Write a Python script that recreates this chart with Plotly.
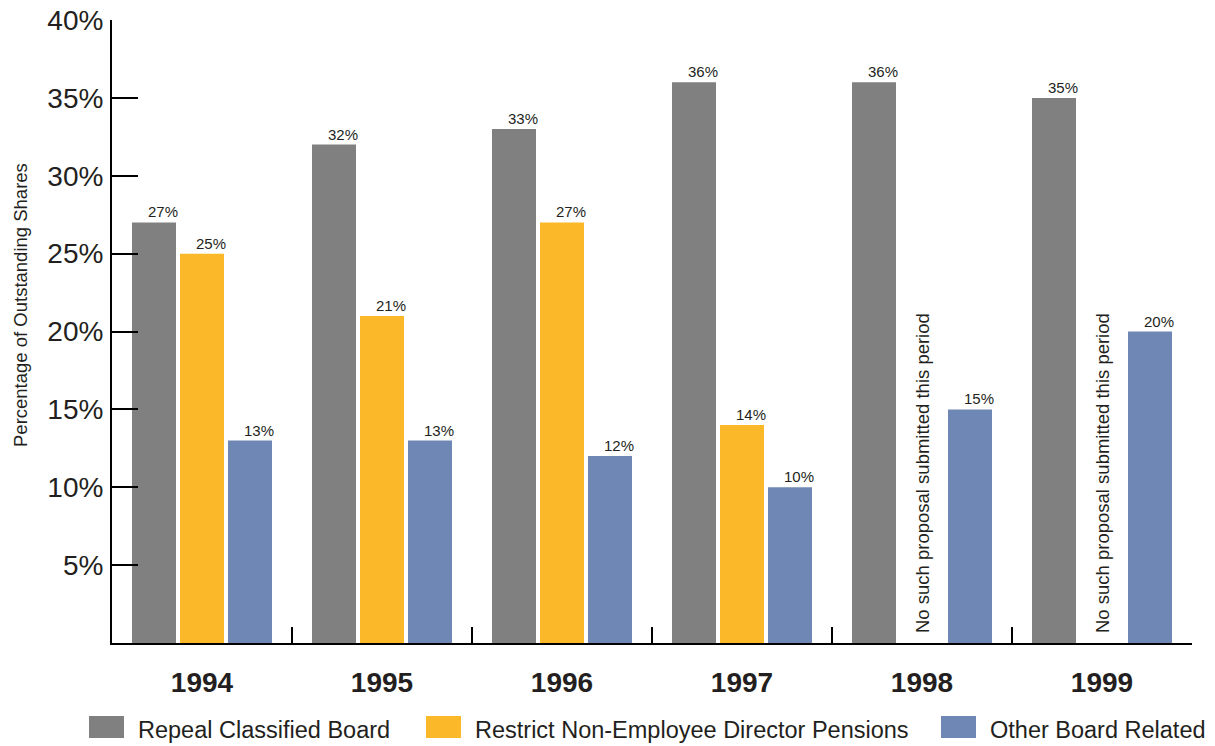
import plotly.graph_objects as go

years = ["1994", "1995", "1996", "1997", "1998", "1999"]
series_names = ["Repeal Classified Board", "Restrict Non-Employee Director Pensions", "Other Board Related"]
repeal = [27, 32, 33, 36, 36, 35]
pensions = [25, 21, 27, 14, None, None]
other = [13, 13, 12, 10, 15, 20]
ytick_vals = [5, 10, 15, 20, 25, 30, 35, 40]
ytick_text = ["5%", "10%", "15%", "20%", "25%", "30%", "35%", "40%"]
missing_note = "No such proposal submitted this period"
y_title = "Percentage of Outstanding Shares"

colors = ["#808080", "#FBB829", "#6E87B4"]
series = [repeal, pensions, other]
FONT = "Liberation Sans, Arial, sans-serif"
TXT = "#231f20"

W, H = 1215, 746
L, R, T, B = 112, 23, 20, 103
PW, PH = W - L - R, H - T - B

def px(xp):
    return (xp - L) / PW

def py(yp):
    return (H - B - yp) / PH

fig = go.Figure()
for name, vals, col in zip(series_names, series, colors):
    fig.add_trace(go.Bar(x=years, y=vals, name=name, marker=dict(color=col, line=dict(width=0)),
                         showlegend=False, hoverinfo="x+y"))

annotations = []
shifts = [-39, 9, 57]
for vals, sh in zip(series, shifts):
    for i, v in enumerate(vals):
        if v is None:
            continue
        annotations.append(dict(x=i, y=v, xref="x", yref="y", text=f"{v}%", showarrow=False,
                                xanchor="center", yanchor="bottom", xshift=sh, yshift=0,
                                font=dict(size=15, color=TXT, family=FONT)))
for i, v in enumerate(pensions):
    if v is None:
        annotations.append(dict(x=i, y=0, xref="x", yref="y", text=missing_note, showarrow=False,
                                textangle=-90, xanchor="center", yanchor="bottom", yshift=8,
                                font=dict(size=18.5, color=TXT, family=FONT)))

annotations.append(dict(x=px(20), y=py(305), xref="paper", yref="paper", text=y_title, showarrow=False,
                        textangle=-90, xanchor="center", yanchor="middle",
                        font=dict(size=18.5, color=TXT, family=FONT)))

# manual legend
legend_sq = [(89, 124), (426, 461), (941, 976)]
shapes = []
for (x0, x1), col, name in zip(legend_sq, colors, series_names):
    shapes.append(dict(type="rect", xref="paper", yref="paper", x0=px(x0), x1=px(x1),
                       y0=py(738), y1=py(716), fillcolor=col, line=dict(width=0)))
    annotations.append(dict(x=px(x1 + 12), y=py(730), xref="paper", yref="paper", text=name,
                            showarrow=False, xanchor="left", yanchor="middle",
                            font=dict(size=23.5, color=TXT, family=FONT)))

fig.update_layout(
    width=W, height=H,
    margin=dict(l=L, r=R, t=T, b=B, pad=0),
    paper_bgcolor="white", plot_bgcolor="white",
    barmode="group", bargap=0.2, bargroupgap=0.0833,
    font=dict(family=FONT, color=TXT),
    annotations=annotations, shapes=shapes,
    xaxis=dict(type="category", range=[-0.5, len(years) - 0.5], autorange=False,
               showline=True, linecolor="black", linewidth=2,
               ticks="inside", tickson="boundaries", ticklen=16, tickwidth=2, tickcolor="black",
               tickfont=dict(size=28, family=FONT, color=TXT, weight="bold"), tickangle=0,
               showgrid=False, zeroline=False, ticklabelstandoff=13, automargin=False),
    yaxis=dict(range=[0, 40], autorange=False, showline=True, linecolor="black", linewidth=2,
               ticks="inside", ticklen=26, tickwidth=2, tickcolor="black",
               tickvals=ytick_vals, ticktext=ytick_text,
               tickfont=dict(size=28, family=FONT, color=TXT),
               showgrid=False, zeroline=False, ticklabelstandoff=1, automargin=False),
)

fig.write_html("out.html")
